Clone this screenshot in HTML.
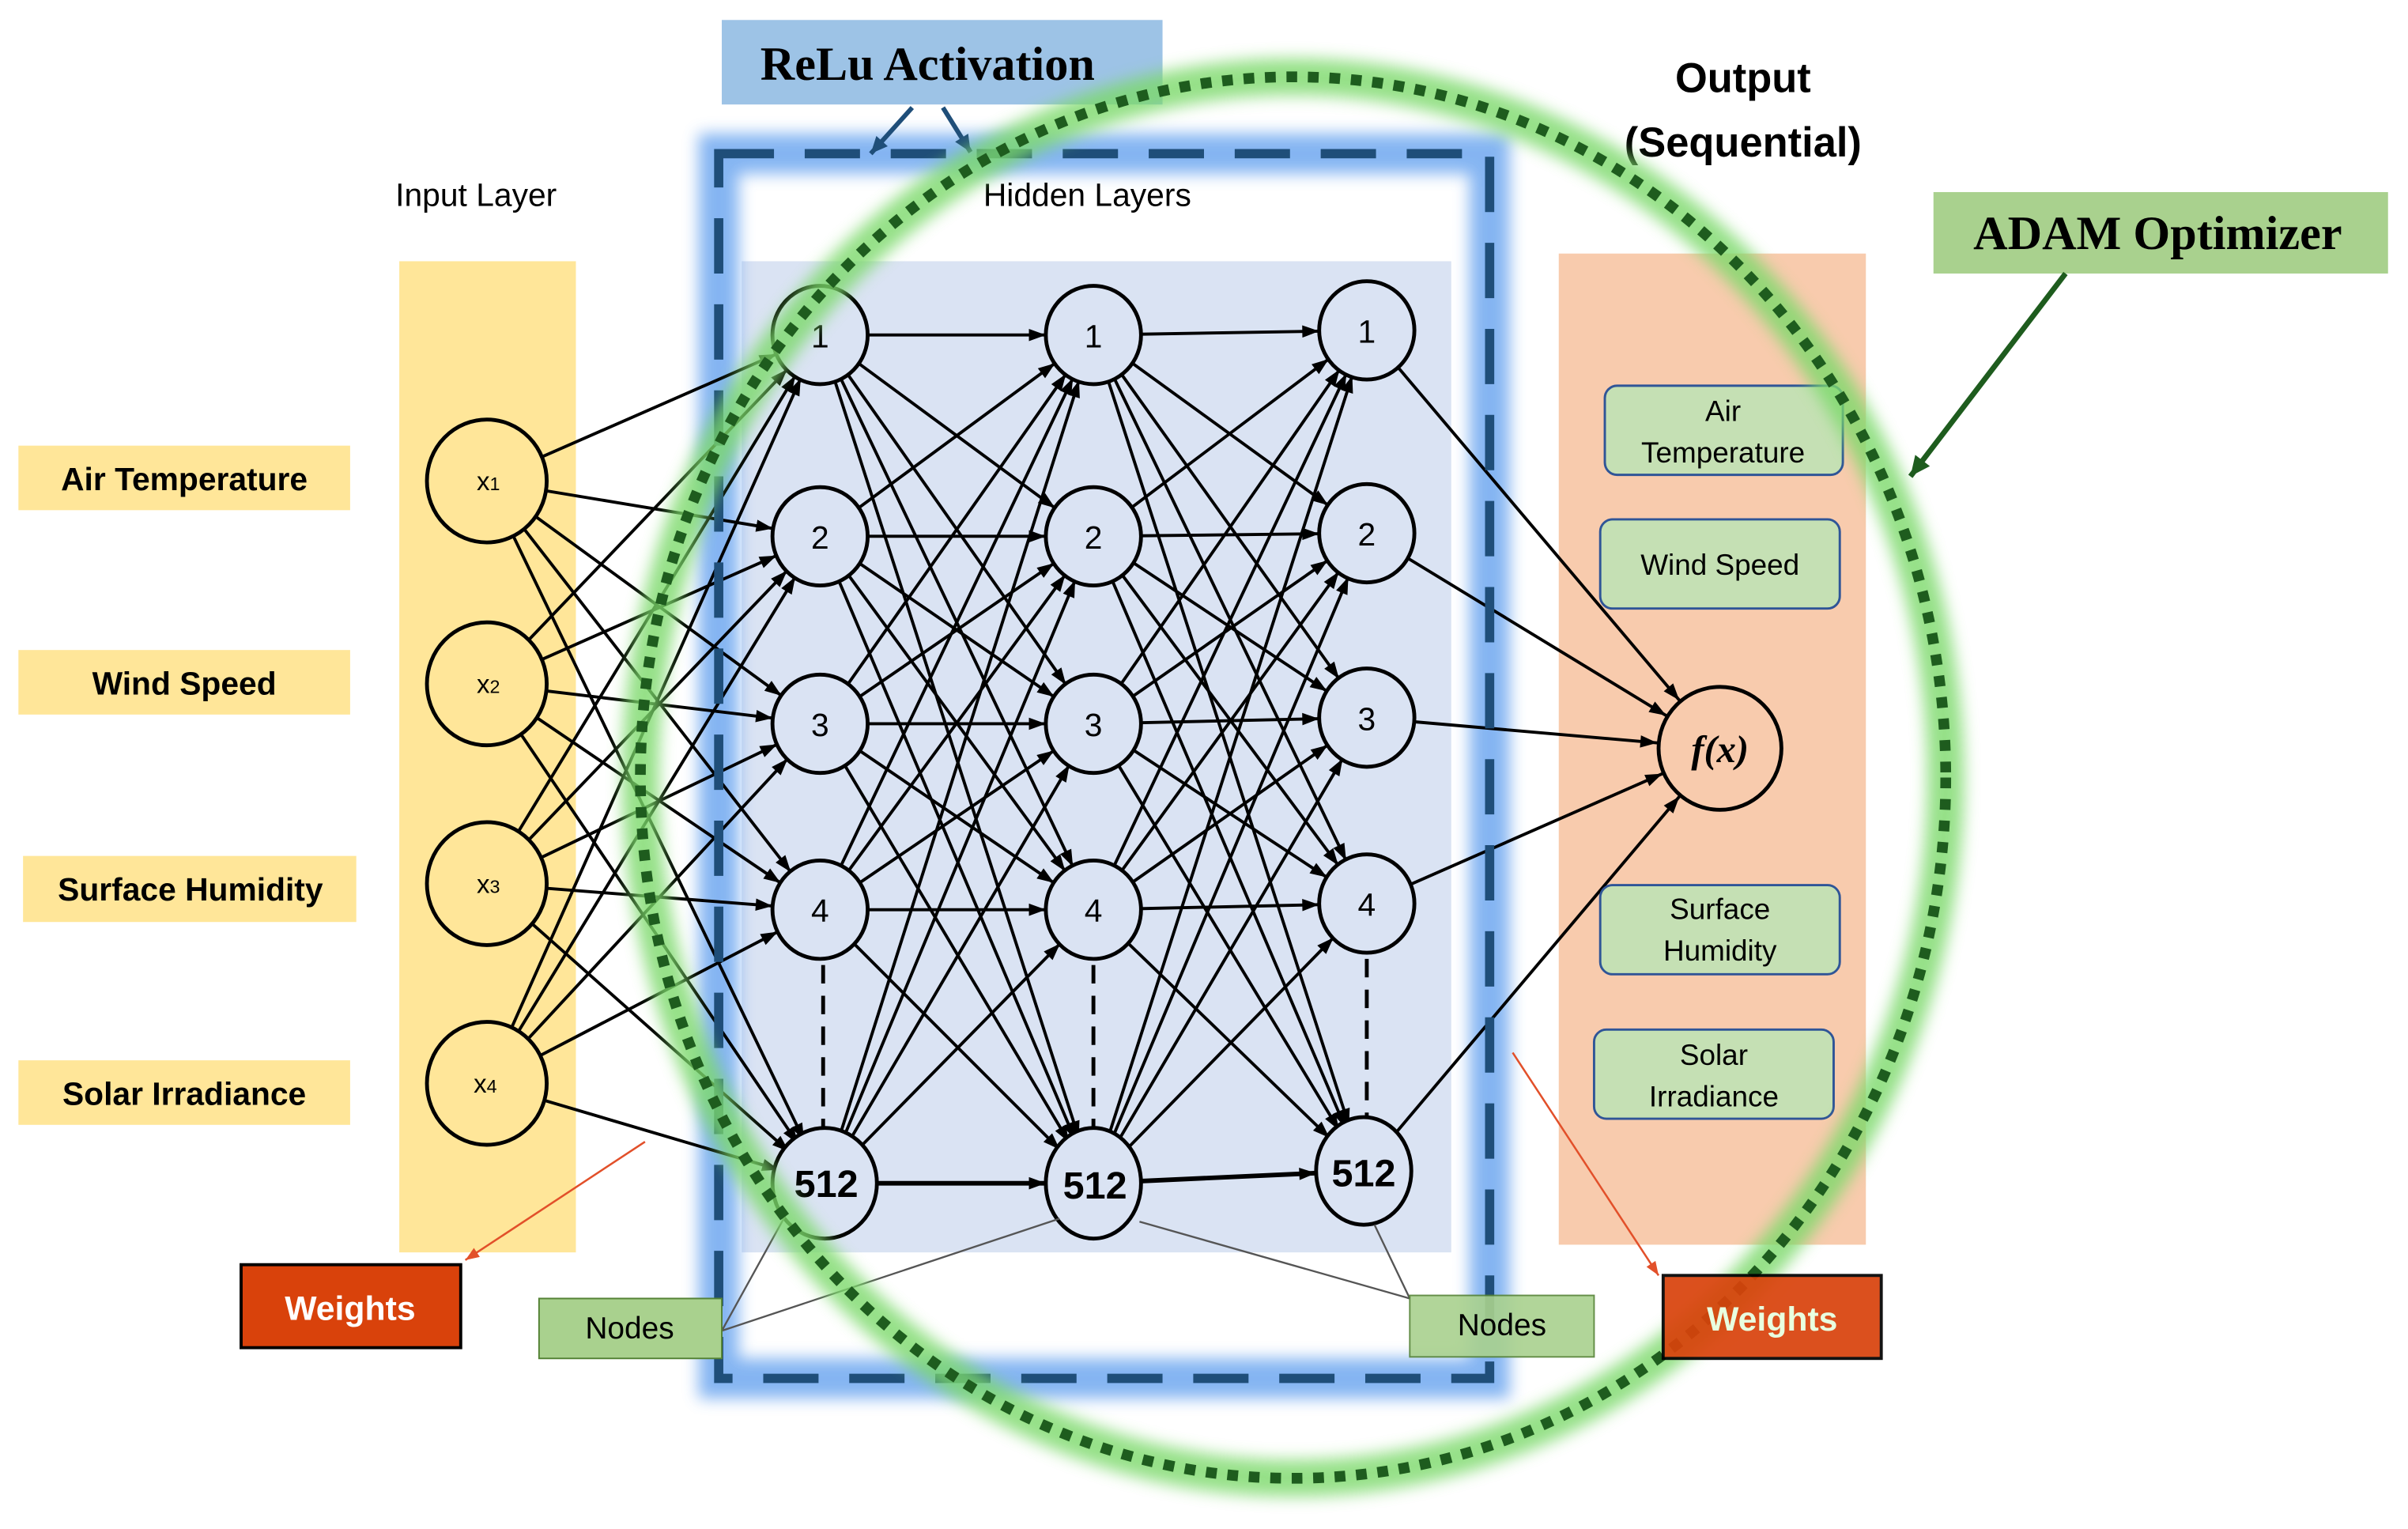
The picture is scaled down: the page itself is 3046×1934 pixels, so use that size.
<!DOCTYPE html>
<html><head><meta charset="utf-8"><style>
html,body{margin:0;padding:0;background:#fff;}
svg{display:block;}
.t{font-family:"Liberation Sans",sans-serif;}
.s{font-family:"Liberation Serif",serif;font-weight:bold;}
</style></head><body>
<svg width="3046" height="1934" viewBox="0 0 1568 995" preserveAspectRatio="none" xmlns="http://www.w3.org/2000/svg">
<defs>
<marker id="a" viewBox="-12 -6 50 12" refX="31" refY="0" markerWidth="50" markerHeight="12" markerUnits="userSpaceOnUse" orient="auto"><path d="M-11,-4 L0,0 L-11,4 z" fill="#000"/></marker>
<marker id="b" viewBox="-12 -6 60 12" refX="41" refY="0" markerWidth="60" markerHeight="12" markerUnits="userSpaceOnUse" orient="auto"><path d="M-11,-4 L0,0 L-11,4 z" fill="#000"/></marker>
<marker id="g" viewBox="-14 -7 16 14" refX="0" refY="0" markerWidth="16" markerHeight="14" markerUnits="userSpaceOnUse" orient="auto"><path d="M-13,-6 L0,0 L-13,6 z" fill="#1e5c1e"/></marker>
<marker id="r" viewBox="-10 -5 12 10" refX="0" refY="0" markerWidth="12" markerHeight="10" markerUnits="userSpaceOnUse" orient="auto"><path d="M-9,-3.5 L0,0 L-9,3.5 z" fill="#e2502a"/></marker>
<marker id="d" viewBox="-12 -6 14 12" refX="0" refY="0" markerWidth="14" markerHeight="12" markerUnits="userSpaceOnUse" orient="auto"><path d="M-11,-5 L0,0 L-11,5 z" fill="#1f4e79"/></marker>
<filter id="bl" x="-10%" y="-10%" width="120%" height="120%"><feGaussianBlur stdDeviation="5"/></filter>
</defs>

<!-- background panels -->
<rect x="260" y="170" width="115" height="645" fill="#ffe699"/>
<rect x="483" y="170" width="462" height="645" fill="#dae3f3"/>
<rect x="1015" y="165" width="200" height="645" fill="#f8cbad"/>

<!-- blue glow for dashed rect -->
<rect x="468" y="100" width="502" height="797" fill="none" stroke="#6fa8f0" stroke-width="26" filter="url(#bl)" opacity="0.85"/>

<!-- input labels -->
<rect x="12" y="290" width="216" height="42" fill="#ffe699"/>
<text x="120" y="319" class="t" font-size="21" font-weight="bold" text-anchor="middle">Air Temperature</text>
<rect x="12" y="423" width="216" height="42" fill="#ffe699"/>
<text x="120" y="452" class="t" font-size="21" font-weight="bold" text-anchor="middle">Wind Speed</text>
<rect x="15" y="557" width="217" height="43" fill="#ffe699"/>
<text x="124" y="586" class="t" font-size="21" font-weight="bold" text-anchor="middle">Surface Humidity</text>
<rect x="12" y="690" width="216" height="42" fill="#ffe699"/>
<text x="120" y="719" class="t" font-size="21" font-weight="bold" text-anchor="middle">Solar Irradiance</text>

<text x="310" y="134" class="t" font-size="21" text-anchor="middle">Input Layer</text>
<text x="708" y="134" class="t" font-size="21" text-anchor="middle">Hidden Layers</text>
<text x="1135" y="60" class="t" font-size="27" font-weight="bold" text-anchor="middle">Output</text>
<text x="1135" y="102" class="t" font-size="27" font-weight="bold" text-anchor="middle">(Sequential)</text>

<!-- connections -->
<g stroke="#000" stroke-width="2" marker-end="url(#a)">
<!-- input -> col1 -->
<line x1="317" y1="313" x2="534" y2="218"/><line x1="317" y1="313" x2="534" y2="349"/><line x1="317" y1="313" x2="534" y2="471"/><line x1="317" y1="313" x2="534" y2="592"/><line x1="317" y1="313" x2="537" y2="770"/>
<line x1="317" y1="445" x2="534" y2="218"/><line x1="317" y1="445" x2="534" y2="349"/><line x1="317" y1="445" x2="534" y2="471"/><line x1="317" y1="445" x2="534" y2="592"/><line x1="317" y1="445" x2="537" y2="770"/>
<line x1="317" y1="575" x2="534" y2="218"/><line x1="317" y1="575" x2="534" y2="349"/><line x1="317" y1="575" x2="534" y2="471"/><line x1="317" y1="575" x2="534" y2="592"/><line x1="317" y1="575" x2="537" y2="770"/>
<line x1="317" y1="705" x2="534" y2="218"/><line x1="317" y1="705" x2="534" y2="349"/><line x1="317" y1="705" x2="534" y2="471"/><line x1="317" y1="705" x2="534" y2="592"/><line x1="317" y1="705" x2="537" y2="770"/>
<!-- col1 -> col2 -->
<line x1="534" y1="218" x2="712" y2="218"/><line x1="534" y1="218" x2="712" y2="349"/><line x1="534" y1="218" x2="712" y2="471"/><line x1="534" y1="218" x2="712" y2="592"/><line x1="534" y1="218" x2="712" y2="770"/>
<line x1="534" y1="349" x2="712" y2="218"/><line x1="534" y1="349" x2="712" y2="349"/><line x1="534" y1="349" x2="712" y2="471"/><line x1="534" y1="349" x2="712" y2="592"/><line x1="534" y1="349" x2="712" y2="770"/>
<line x1="534" y1="471" x2="712" y2="218"/><line x1="534" y1="471" x2="712" y2="349"/><line x1="534" y1="471" x2="712" y2="471"/><line x1="534" y1="471" x2="712" y2="592"/><line x1="534" y1="471" x2="712" y2="770"/>
<line x1="534" y1="592" x2="712" y2="218"/><line x1="534" y1="592" x2="712" y2="349"/><line x1="534" y1="592" x2="712" y2="471"/><line x1="534" y1="592" x2="712" y2="592"/><line x1="534" y1="592" x2="712" y2="770"/>
<line x1="537" y1="770" x2="712" y2="218"/><line x1="537" y1="770" x2="712" y2="349"/><line x1="537" y1="770" x2="712" y2="471"/><line x1="537" y1="770" x2="712" y2="592"/><line x1="537" y1="770" x2="712" y2="770" stroke-width="3"/>
<!-- col2 -> col3 -->
<line x1="712" y1="218" x2="890" y2="215"/><line x1="712" y1="218" x2="890" y2="347"/><line x1="712" y1="218" x2="890" y2="467"/><line x1="712" y1="218" x2="890" y2="588"/><line x1="712" y1="218" x2="888" y2="762"/>
<line x1="712" y1="349" x2="890" y2="215"/><line x1="712" y1="349" x2="890" y2="347"/><line x1="712" y1="349" x2="890" y2="467"/><line x1="712" y1="349" x2="890" y2="588"/><line x1="712" y1="349" x2="888" y2="762"/>
<line x1="712" y1="471" x2="890" y2="215"/><line x1="712" y1="471" x2="890" y2="347"/><line x1="712" y1="471" x2="890" y2="467"/><line x1="712" y1="471" x2="890" y2="588"/><line x1="712" y1="471" x2="888" y2="762"/>
<line x1="712" y1="592" x2="890" y2="215"/><line x1="712" y1="592" x2="890" y2="347"/><line x1="712" y1="592" x2="890" y2="467"/><line x1="712" y1="592" x2="890" y2="588"/><line x1="712" y1="592" x2="888" y2="762"/>
<line x1="712" y1="770" x2="890" y2="215"/><line x1="712" y1="770" x2="890" y2="347"/><line x1="712" y1="770" x2="890" y2="467"/><line x1="712" y1="770" x2="890" y2="588"/><line x1="712" y1="770" x2="888" y2="762" stroke-width="3"/>
</g>
<g stroke="#000" stroke-width="2" marker-end="url(#b)">
<line x1="890" y1="215" x2="1120" y2="487"/><line x1="890" y1="347" x2="1120" y2="487"/><line x1="890" y1="467" x2="1120" y2="487"/><line x1="890" y1="588" x2="1120" y2="487"/><line x1="888" y1="762" x2="1120" y2="487"/>
</g>

<!-- vertical dashed -->
<g stroke="#000" stroke-width="2.5" stroke-dasharray="12,8">
<line x1="536" y1="628" x2="536" y2="734"/><line x1="712" y1="628" x2="712" y2="734"/><line x1="890" y1="624" x2="890" y2="726"/>
</g>

<!-- nodes -->
<g fill="#ffe699" stroke="#000" stroke-width="2.5">
<ellipse cx="317" cy="313" rx="39" ry="40"/><ellipse cx="317" cy="445" rx="39" ry="40"/><ellipse cx="317" cy="575" rx="39" ry="40"/><ellipse cx="317" cy="705" rx="39" ry="40"/>
</g>
<g class="t" font-size="17" text-anchor="middle">
<text x="318" y="319">x<tspan font-size="12">1</tspan></text><text x="318" y="451">x<tspan font-size="12">2</tspan></text><text x="318" y="581">x<tspan font-size="12">3</tspan></text><text x="316" y="711">x<tspan font-size="12">4</tspan></text>
</g>
<g fill="#dae3f3" stroke="#000" stroke-width="2.5">
<ellipse cx="534" cy="218" rx="31" ry="32"/><ellipse cx="534" cy="349" rx="31" ry="32"/><ellipse cx="534" cy="471" rx="31" ry="32"/><ellipse cx="534" cy="592" rx="31" ry="32"/><ellipse cx="537" cy="770" rx="34" ry="36"/>
<ellipse cx="712" cy="218" rx="31" ry="32"/><ellipse cx="712" cy="349" rx="31" ry="32"/><ellipse cx="712" cy="471" rx="31" ry="32"/><ellipse cx="712" cy="592" rx="31" ry="32"/><ellipse cx="712" cy="770" rx="31" ry="36"/>
<ellipse cx="890" cy="215" rx="31" ry="32"/><ellipse cx="890" cy="347" rx="31" ry="32"/><ellipse cx="890" cy="467" rx="31" ry="32"/><ellipse cx="890" cy="588" rx="31" ry="32"/><ellipse cx="888" cy="762" rx="31" ry="35"/>
</g>
<g class="t" font-size="21" text-anchor="middle">
<text x="534" y="226">1</text><text x="534" y="357">2</text><text x="534" y="479">3</text><text x="534" y="600">4</text>
<text x="712" y="226">1</text><text x="712" y="357">2</text><text x="712" y="479">3</text><text x="712" y="600">4</text>
<text x="890" y="223">1</text><text x="890" y="355">2</text><text x="890" y="475">3</text><text x="890" y="596">4</text>
</g>
<g class="t" font-size="25" font-weight="bold" text-anchor="middle">
<text x="538" y="779">512</text><text x="713" y="780">512</text><text x="888" y="772">512</text>
</g>
<ellipse cx="1120" cy="487" rx="40" ry="40" fill="#f8cbad" stroke="#000" stroke-width="2.5"/>
<text x="1120" y="496" class="s" font-size="25" font-style="italic" text-anchor="middle" font-weight="normal">f(x)</text>

<!-- output green boxes -->
<g fill="#c5e0b4" stroke="#2f5597" stroke-width="1.5">
<rect x="1045" y="251" width="155" height="58" rx="8"/><rect x="1042" y="338" width="156" height="58" rx="8"/><rect x="1042" y="576" width="156" height="58" rx="8"/><rect x="1038" y="670" width="156" height="58" rx="8"/>
</g>
<g class="t" font-size="19" text-anchor="middle">
<text x="1122" y="274">Air</text><text x="1122" y="301">Temperature</text>
<text x="1120" y="374">Wind Speed</text>
<text x="1120" y="598">Surface</text><text x="1120" y="625">Humidity</text>
<text x="1116" y="693">Solar</text><text x="1116" y="720">Irradiance</text>
</g>

<!-- thin connectors -->
<g stroke="#555" stroke-width="1.2" fill="none">
<line x1="470" y1="866" x2="512" y2="790"/><line x1="470" y1="866" x2="690" y2="793"/>
<line x1="918" y1="845" x2="742" y2="795"/><line x1="918" y1="845" x2="895" y2="797"/>
</g>
<line x1="420" y1="743" x2="303" y2="820" stroke="#e2502a" stroke-width="1.3" marker-end="url(#r)"/>
<line x1="985" y1="685" x2="1080" y2="830" stroke="#e2502a" stroke-width="1.3" marker-end="url(#r)"/>

<!-- dashed blue rect -->
<rect x="468" y="100" width="502" height="797" fill="none" stroke="#1f4e79" stroke-width="6" stroke-dasharray="36,20"/>

<!-- ReLu box -->
<rect x="470" y="13" width="287" height="55" fill="#9dc3e6"/>
<text x="604" y="52" class="s" font-size="31" text-anchor="middle">ReLu Activation</text>
<line x1="594" y1="70" x2="567" y2="100" stroke="#1f4e79" stroke-width="3" marker-end="url(#d)"/>
<line x1="614" y1="70" x2="632" y2="99" stroke="#1f4e79" stroke-width="3" marker-end="url(#d)"/>

<!-- green ellipse -->
<ellipse cx="842" cy="506" rx="425" ry="456" fill="none" stroke="#7bd96b" stroke-width="24" filter="url(#bl)" opacity="0.8"/>
<ellipse cx="842" cy="506" rx="425" ry="456" fill="none" stroke="#1e5c1e" stroke-width="7" stroke-dasharray="7,7"/>

<!-- boxes -->
<rect x="157" y="823" width="143" height="54" fill="#d9420b" stroke="#000" stroke-width="2"/>
<text x="228" y="859" class="t" font-size="22" font-weight="bold" fill="#fff" text-anchor="middle">Weights</text>
<rect x="1083" y="830" width="142" height="54" fill="#d9420b" stroke="#000" stroke-width="2" opacity="0.92"/>
<text x="1154" y="866" class="t" font-size="22" font-weight="bold" fill="#e8ffe0" text-anchor="middle">Weights</text>
<rect x="351" y="845" width="119" height="39" fill="#a9d18e" stroke="#548235" stroke-width="1"/>
<text x="410" y="871" class="t" font-size="20" text-anchor="middle">Nodes</text>
<rect x="918" y="843" width="120" height="40" fill="#a9d18e" stroke="#548235" stroke-width="1" opacity="0.9"/>
<text x="978" y="869" class="t" font-size="20" text-anchor="middle">Nodes</text>

<!-- ADAM -->
<rect x="1259" y="125" width="296" height="53" fill="#a9d18e"/>
<text x="1405" y="162" class="s" font-size="31" text-anchor="middle">ADAM Optimizer</text>
<line x1="1345" y1="178" x2="1244" y2="310" stroke="#1e5c1e" stroke-width="3.5" marker-end="url(#g)"/>
</svg>
</body></html>
